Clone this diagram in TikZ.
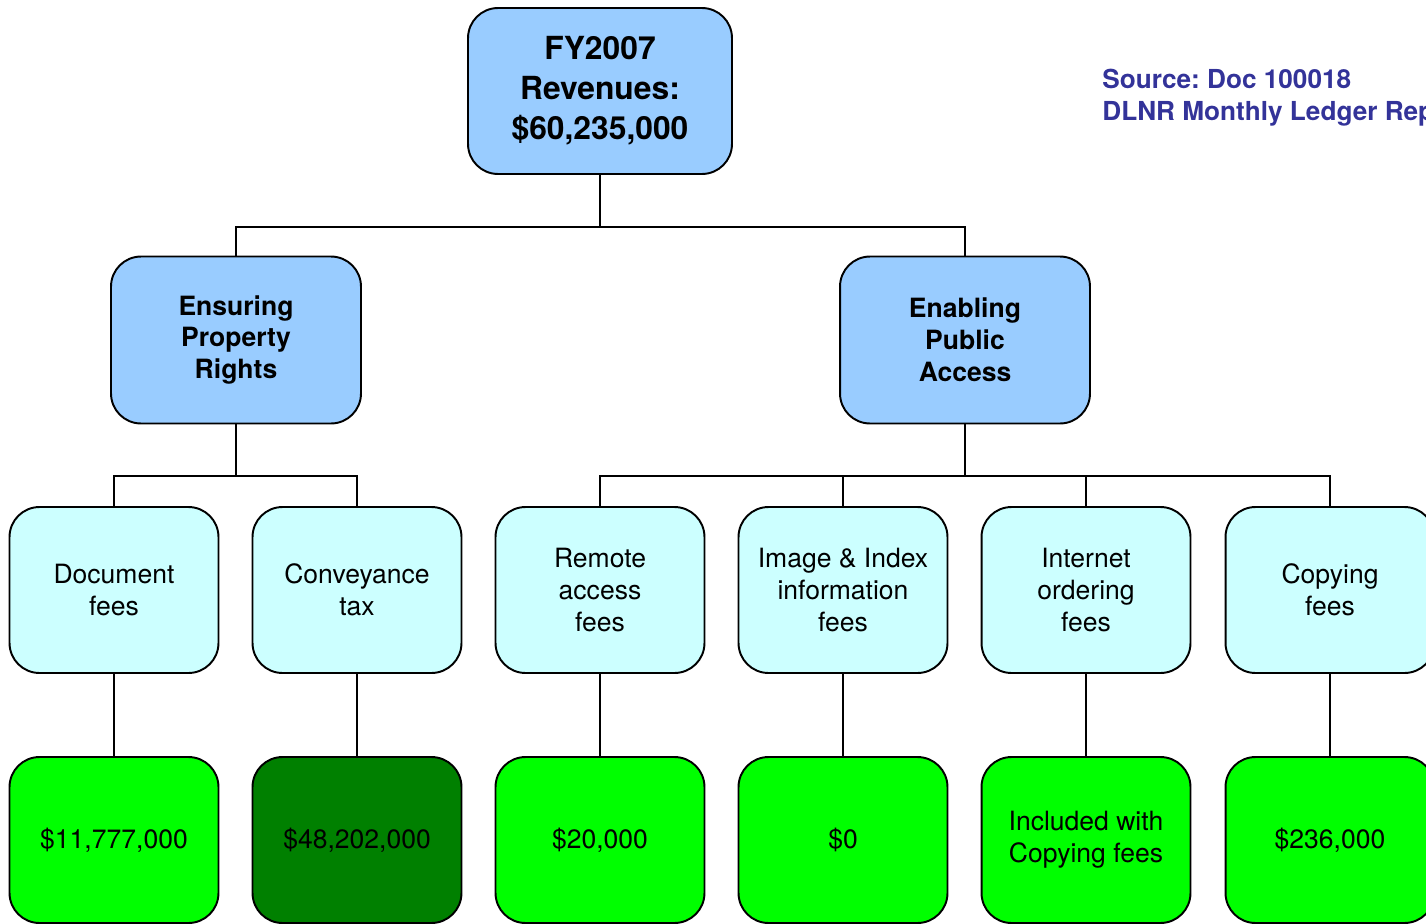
\documentclass[tikz,border=0pt]{standalone}
\usepackage{fontspec}
\setmainfont{TeX Gyre Heros}
\usetikzlibrary{positioning}

\definecolor{headblue}{HTML}{99CCFF}
\definecolor{feecyan}{HTML}{CCFFFF}
\definecolor{amtgreen}{HTML}{00FF00}
\definecolor{amtdark}{HTML}{008000}
\definecolor{srcblue}{HTML}{333399}

\begin{document}
\frenchspacing
\begin{tikzpicture}[
    x=0.02cm, y=-0.02cm,
    root/.style={rectangle, draw, line width=1.1pt, fill=headblue, rounded corners=0.6cm, align=center, inner sep=2pt, minimum width=5.28cm, minimum height=3.32cm, font=\bfseries\fontsize{18.1}{22.8}\selectfont},
    head/.style={rectangle, draw, line width=1.1pt, fill=headblue, rounded corners=0.6cm, align=center, inner sep=2pt, minimum width=5cm, minimum height=3.34cm, font=\bfseries\fontsize{15.1}{18.2}\selectfont},
    fee/.style={rectangle, draw, line width=1.1pt, fill=feecyan, rounded corners=0.6cm, align=center, inner sep=2pt, minimum width=4.18cm, minimum height=3.32cm, font=\fontsize{15.1}{18.2}\selectfont},
    amount/.style={fee, fill=amtgreen},
    link/.style={line width=1.1pt, draw=black}
]
\useasboundingbox (0,0) rectangle (1426,923);

% Root
\node[root] (rev) at (600,91) {FY2007\\Revenues:\\\$60,235,000};

% Source note
\node[anchor=west, align=left, text=srcblue, inner sep=0pt, font=\bfseries\fontsize{14.9}{18.2}\selectfont] (src) at (1102,98) {Source: Doc 100018\\DLNR Monthly Ledger Report};

% Functions
\node[head] (rights) at (236,340) {Ensuring\\Property\\Rights};
\node[head] (access) at (965,340) {Enabling\\Public\\Access};

% Fees
\node[fee] (doc) at (114,590) {Document\\fees};
\node[fee] (conv) at (357,590) {Conveyance\\tax};
\node[fee] (remote) at (600,590) {Remote\\access\\fees};
\node[fee] (image) at (843,590) {Image \& Index\\information\\fees};
\node[fee] (internet) at (1086,590) {Internet\\ordering\\fees};
\node[fee] (copying) at (1330,590) {Copying\\fees};

% Amounts
\node[amount] (docamt) at (114,840) {\$11,777,000};
\node[amount, fill=amtdark] (convamt) at (357,840) {\$48,202,000};
\node[amount] (remoteamt) at (600,840) {\$20,000};
\node[amount] (imageamt) at (843,840) {\$0};
\node[amount] (internetamt) at (1086,840) {Included with\\Copying fees};
\node[amount] (copyingamt) at (1330,840) {\$236,000};

% Connectors
\draw[link] (rev.south) -- ++(0,52) -| (rights.north);
\draw[link] (rev.south) -- ++(0,52) -| (access.north);
\foreach \f in {doc,conv}
    \draw[link] (rights.south) -- ++(0,52) -| (\f.north);
\foreach \f in {remote,image,internet,copying}
    \draw[link] (access.south) -- ++(0,52) -| (\f.north);
\foreach \f in {doc,conv,remote,image,internet,copying}
    \draw[link] (\f.south) -- (\f amt.north);

\end{tikzpicture}
\end{document}
